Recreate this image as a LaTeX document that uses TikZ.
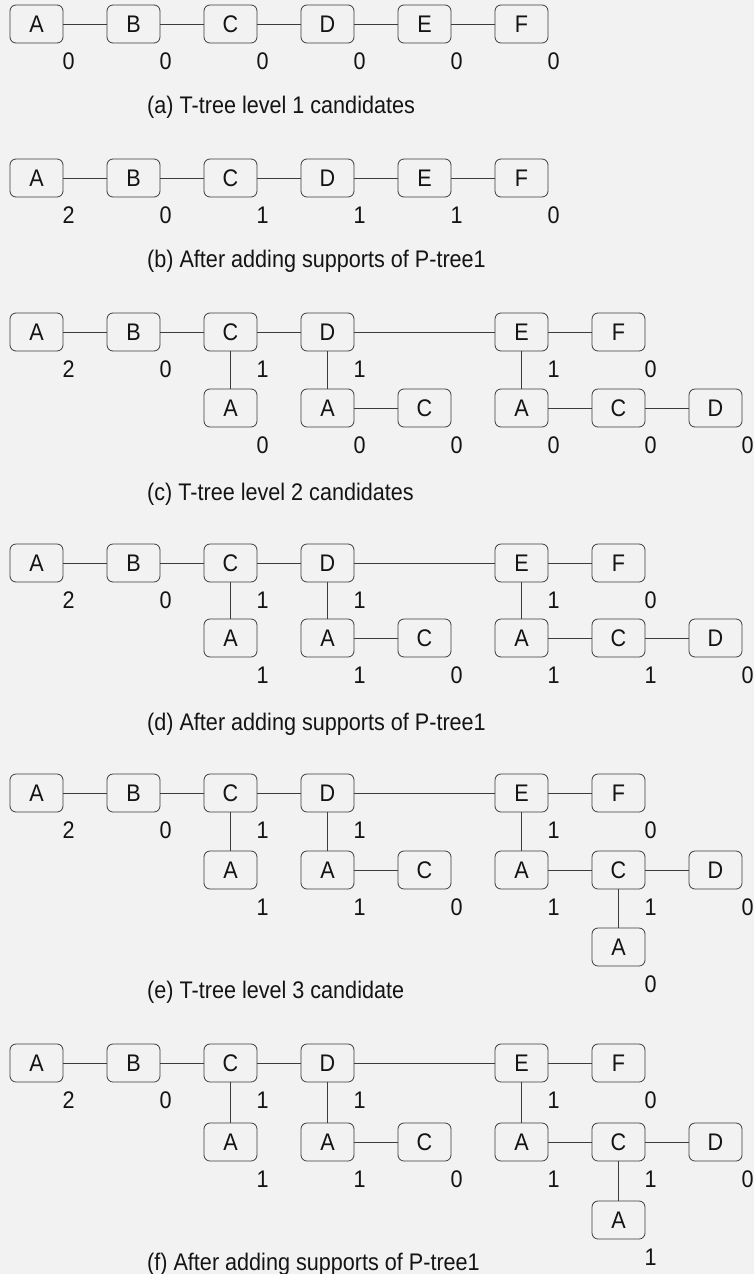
\documentclass[tikz,border=0pt]{standalone}
\usepackage{fontspec}
\setmainfont[FakeStretch=0.9]{Liberation Sans}
\definecolor{bg}{RGB}{242,242,242}
\definecolor{ink}{RGB}{20,20,20}
\definecolor{edge}{RGB}{60,60,60}
\newcommand\tn[5]{%
  \node[tbox] (#1) at ({36.5+97*#2}, #3) {#4};
  \node[cnt] (#1n) at ([xshift=-1pt,yshift=-37pt]#1.east) {#5};}
\newcommand\capt[3]{\node[captxt] (#1) at (147, #2) {#3};}
\begin{document}
\begin{tikzpicture}[x=1pt,y=-1pt,
  every node/.style={font=\fontsize{24}{28}\selectfont, text=ink},
  tbox/.style={draw=edge, line width=0.8pt, rounded corners=6pt,
    minimum width=53pt, minimum height=38pt, inner sep=0pt},
  cnt/.style={anchor=west, inner sep=0pt},
  captxt/.style={anchor=base west, inner sep=0pt},
  link/.style={draw=edge, line width=0.7pt}]
\fill[bg] (0,0) rectangle (754,1274);
\useasboundingbox (0,0) rectangle (754,1274);
% ---------- (a)
\tn{aA}{0}{24}{A}{0}
\tn{aB}{1}{24}{B}{0}
\tn{aC}{2}{24}{C}{0}
\tn{aD}{3}{24}{D}{0}
\tn{aE}{4}{24}{E}{0}
\tn{aF}{5}{24}{F}{0}
\draw[link] (aA) -- (aB) (aB) -- (aC) (aC) -- (aD) (aD) -- (aE) (aE) -- (aF);
\capt{capa}{113}{(a) T-tree level 1 candidates}
% ---------- (b)
\tn{bA}{0}{178}{A}{2}
\tn{bB}{1}{178}{B}{0}
\tn{bC}{2}{178}{C}{1}
\tn{bD}{3}{178}{D}{1}
\tn{bE}{4}{178}{E}{1}
\tn{bF}{5}{178}{F}{0}
\draw[link] (bA) -- (bB) (bB) -- (bC) (bC) -- (bD) (bD) -- (bE) (bE) -- (bF);
\capt{capb}{267}{(b) After adding supports of P-tree1}
% ---------- (c)
\tn{cA}{0}{332}{A}{2}
\tn{cB}{1}{332}{B}{0}
\tn{cC}{2}{332}{C}{1}
\tn{cD}{3}{332}{D}{1}
\tn{cE}{5}{332}{E}{1}
\tn{cF}{6}{332}{F}{0}
\tn{cCA}{2}{408}{A}{0}
\tn{cDA}{3}{408}{A}{0}
\tn{cDC}{4}{408}{C}{0}
\tn{cEA}{5}{408}{A}{0}
\tn{cEC}{6}{408}{C}{0}
\tn{cED}{7}{408}{D}{0}
\draw[link] (cA) -- (cB) (cB) -- (cC) (cC) -- (cD) (cD) -- (cE) (cE) -- (cF)
  (cC) -- (cCA) (cD) -- (cDA) (cDA) -- (cDC) (cE) -- (cEA) (cEA) -- (cEC) (cEC) -- (cED);
\capt{capc}{500}{(c) T-tree level 2 candidates}
% ---------- (d)
\tn{dA}{0}{563}{A}{2}
\tn{dB}{1}{563}{B}{0}
\tn{dC}{2}{563}{C}{1}
\tn{dD}{3}{563}{D}{1}
\tn{dE}{5}{563}{E}{1}
\tn{dF}{6}{563}{F}{0}
\tn{dCA}{2}{638}{A}{1}
\tn{dDA}{3}{638}{A}{1}
\tn{dDC}{4}{638}{C}{0}
\tn{dEA}{5}{638}{A}{1}
\tn{dEC}{6}{638}{C}{1}
\tn{dED}{7}{638}{D}{0}
\draw[link] (dA) -- (dB) (dB) -- (dC) (dC) -- (dD) (dD) -- (dE) (dE) -- (dF)
  (dC) -- (dCA) (dD) -- (dDA) (dDA) -- (dDC) (dE) -- (dEA) (dEA) -- (dEC) (dEC) -- (dED);
\capt{capd}{730}{(d) After adding supports of P-tree1}
% ---------- (e)
\tn{eA}{0}{793}{A}{2}
\tn{eB}{1}{793}{B}{0}
\tn{eC}{2}{793}{C}{1}
\tn{eD}{3}{793}{D}{1}
\tn{eE}{5}{793}{E}{1}
\tn{eF}{6}{793}{F}{0}
\tn{eCA}{2}{870}{A}{1}
\tn{eDA}{3}{870}{A}{1}
\tn{eDC}{4}{870}{C}{0}
\tn{eEA}{5}{870}{A}{1}
\tn{eEC}{6}{870}{C}{1}
\tn{eED}{7}{870}{D}{0}
\tn{eECA}{6}{947}{A}{0}
\draw[link] (eA) -- (eB) (eB) -- (eC) (eC) -- (eD) (eD) -- (eE) (eE) -- (eF)
  (eC) -- (eCA) (eD) -- (eDA) (eDA) -- (eDC) (eE) -- (eEA) (eEA) -- (eEC) (eEC) -- (eED)
  (eEC) -- (eECA);
\capt{cape}{998}{(e) T-tree level 3 candidate}
% ---------- (f)
\tn{fA}{0}{1063}{A}{2}
\tn{fB}{1}{1063}{B}{0}
\tn{fC}{2}{1063}{C}{1}
\tn{fD}{3}{1063}{D}{1}
\tn{fE}{5}{1063}{E}{1}
\tn{fF}{6}{1063}{F}{0}
\tn{fCA}{2}{1142}{A}{1}
\tn{fDA}{3}{1142}{A}{1}
\tn{fDC}{4}{1142}{C}{0}
\tn{fEA}{5}{1142}{A}{1}
\tn{fEC}{6}{1142}{C}{1}
\tn{fED}{7}{1142}{D}{0}
\tn{fECA}{6}{1220}{A}{1}
\draw[link] (fA) -- (fB) (fB) -- (fC) (fC) -- (fD) (fD) -- (fE) (fE) -- (fF)
  (fC) -- (fCA) (fD) -- (fDA) (fDA) -- (fDC) (fE) -- (fEA) (fEA) -- (fEC) (fEC) -- (fED)
  (fEC) -- (fECA);
\capt{capf}{1270}{(f) After adding supports of P-tree1}
\end{tikzpicture}
\end{document}
